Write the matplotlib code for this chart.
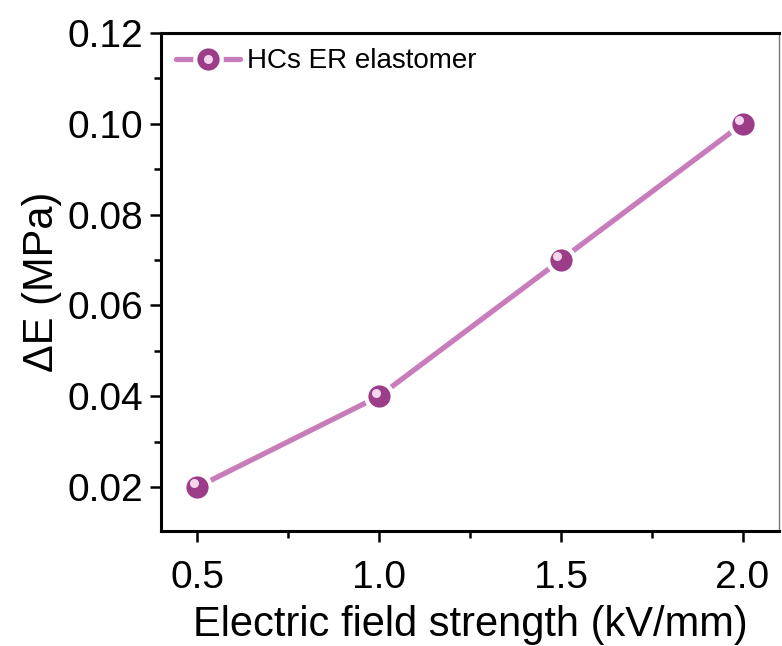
import matplotlib
matplotlib.use("Agg")
import matplotlib.pyplot as plt
import matplotlib.transforms as mtrans
from matplotlib.ticker import MultipleLocator
from matplotlib.legend_handler import HandlerTuple

plt.rcParams['font.family'] = ['Liberation Sans', 'DejaVu Sans']

field = [0.5, 1.0, 1.5, 2.0]
delta_e = [0.02, 0.04, 0.07, 0.10]
xticks = [0.5, 1.0, 1.5, 2.0]
yticks = [0.02, 0.04, 0.06, 0.08, 0.10, 0.12]

LINE = '#c97cbb'
BALL = '#9c3d8a'

fig = plt.figure(figsize=(7.82, 6.46), dpi=100)
ax = fig.add_axes([0.206, 0.178, 0.790, 0.771])

line, = ax.plot(field, delta_e, color=LINE, lw=3.8, solid_capstyle='round', zorder=2)
ball, = ax.plot(field, delta_e, ls='none', marker='o', ms=19, mfc=BALL,
                mec='white', mew=3, zorder=3)
shine, = ax.plot(field, delta_e, ls='none', marker='o', ms=6.5, mfc='#f3d6ee',
                 mec='none', zorder=4)
# highlight sits up-left on the ball
shine.set_transform(ax.transData + mtrans.ScaledTranslation(-2.5/72, 2.5/72, fig.dpi_scale_trans))

ax.set_xlim(0.4, 2.1)
ax.set_ylim(0.0103, 0.12)
ax.set_xticks(xticks)
ax.set_xticklabels(['%.1f' % v for v in xticks])
ax.set_yticks(yticks)
ax.set_yticklabels(['%.2f' % v for v in yticks])
ax.xaxis.set_minor_locator(MultipleLocator(0.25))
ax.yaxis.set_minor_locator(MultipleLocator(0.01))

ax.tick_params(which='major', direction='out', length=8, width=1.8, labelsize=28, pad=5)
ax.tick_params(which='minor', direction='out', length=5, width=1.8)
ax.tick_params(axis='x', which='major', pad=13)
for s in ['left', 'bottom', 'top']:
    ax.spines[s].set_linewidth(2.2)
ax.spines['right'].set_linewidth(1)
ax.spines['right'].set_color('#777777')

ax.set_xlabel('Electric field strength (kV/mm)', fontsize=30, labelpad=6)
ax.set_ylabel('ΔE (MPa)', fontsize=30, labelpad=4)

ax.legend([(line, ball, shine)], ['HCs ER elastomer'],
          handler_map={tuple: HandlerTuple(ndivide=1)},
          loc='upper left', frameon=False, fontsize=20,
          handlelength=2.3, borderaxespad=0.15, handletextpad=0.25)

fig.savefig('out.png', dpi=100)
